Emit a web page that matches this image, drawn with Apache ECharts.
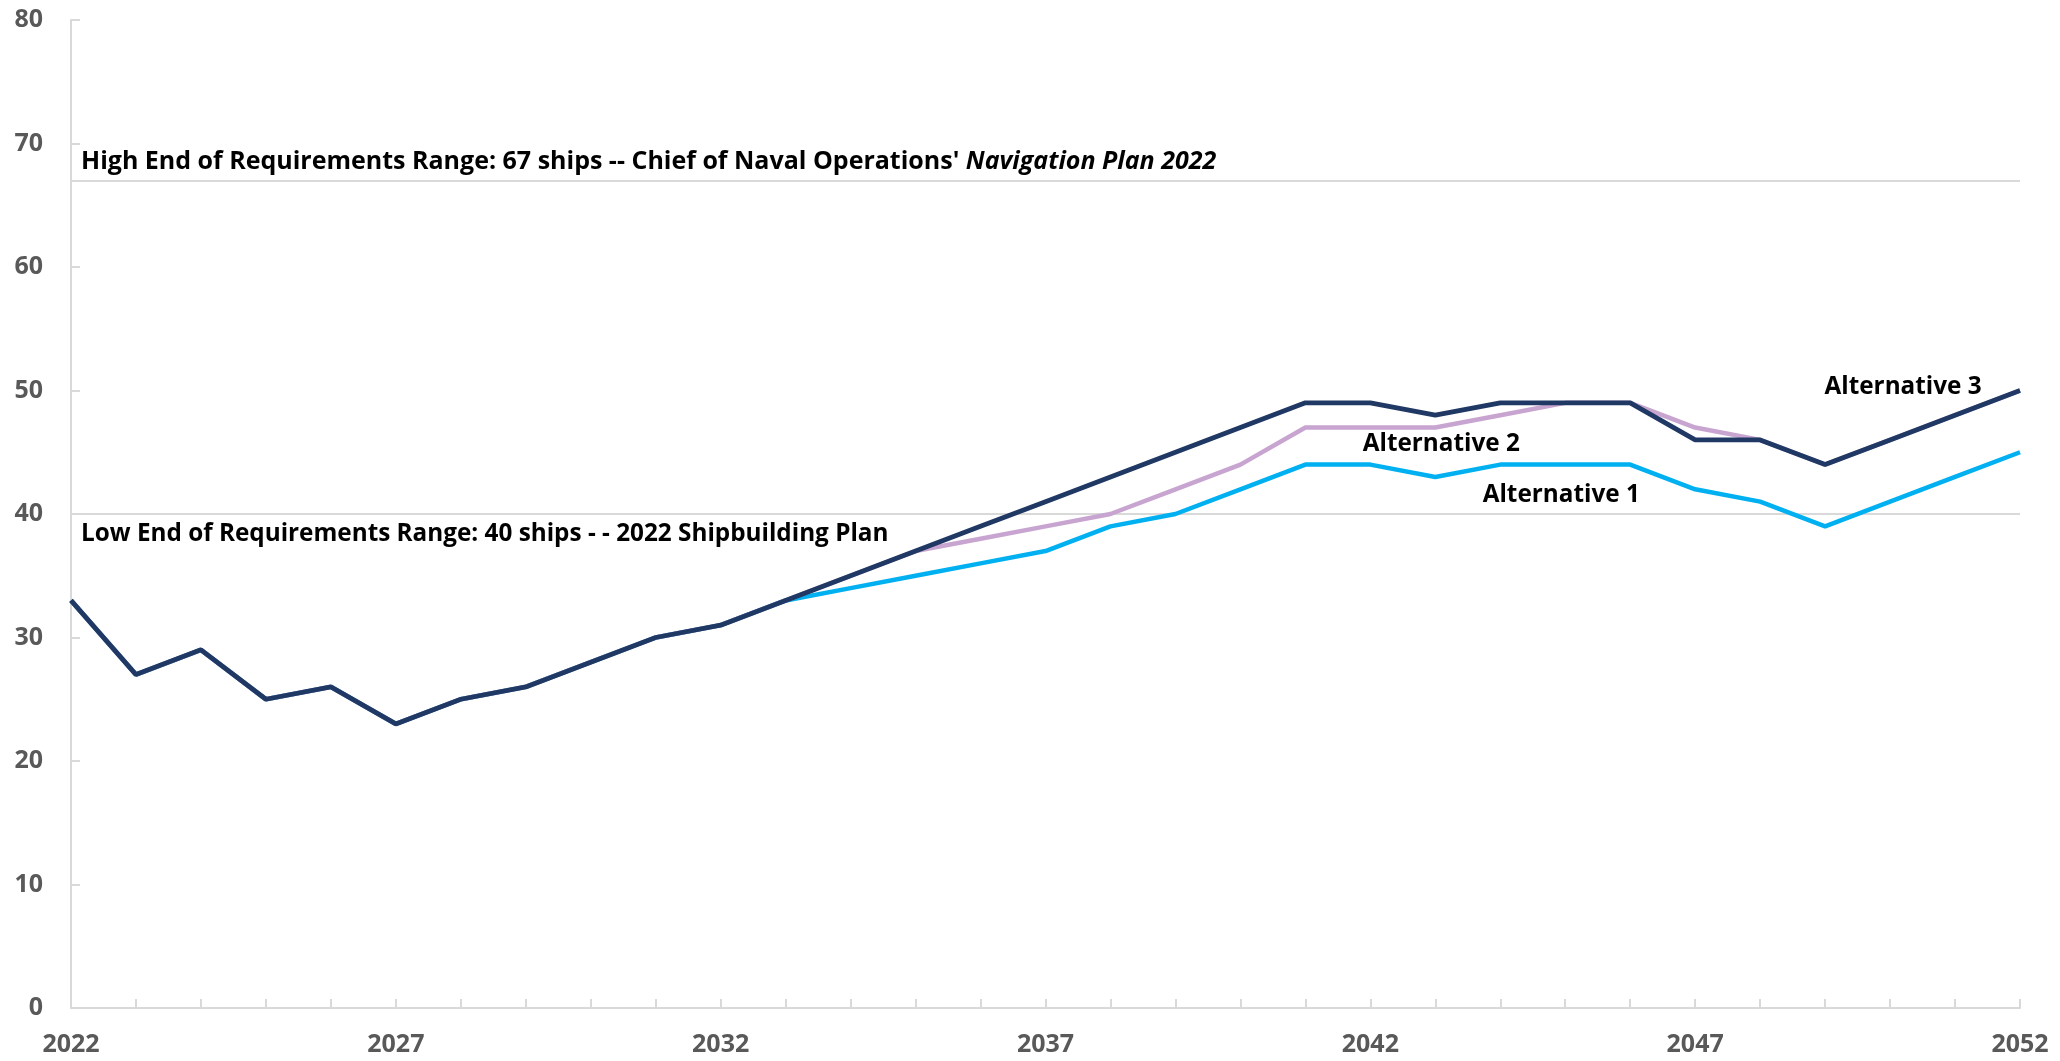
<!DOCTYPE html>
<html>
<head>
<meta charset="utf-8">
<title>Ships: Alternatives 1–3, 2022–2052</title>
<script src="https://cdn.jsdelivr.net/npm/echarts@6/dist/echarts.min.js"></script>
<style>
  html, body { margin: 0; padding: 0; background: #ffffff; }
  #chart { width: 2060px; height: 1061px; }
</style>
</head>
<body>
<div id="chart"></div>
<script>
// Fiscal years on the horizontal axis
const years = [];
for (let y = 2022; y <= 2052; y++) years.push(String(y));

// Number of ships by year for each alternative
const alternative1 = [33, 27, 29, 25, 26, 23, 25, 26, 28, 30, 31, 33, 34, 35, 36, 37, 39, 40, 42, 44, 44, 43, 44, 44, 44, 42, 41, 39, 41, 43, 45];
const alternative2 = [33, 27, 29, 25, 26, 23, 25, 26, 28, 30, 31, 33, 35, 37, 38, 39, 40, 42, 44, 47, 47, 47, 48, 49, 49, 47, 46, 44, 46, 48, 50];
const alternative3 = [33, 27, 29, 25, 26, 23, 25, 26, 28, 30, 31, 33, 35, 37, 39, 41, 43, 45, 47, 49, 49, 48, 49, 49, 49, 46, 46, 44, 46, 48, 50];

// Requirement range ends
const highEndRequirement = 67;
const lowEndRequirement = 40;

// Y-axis ticks
const yTicks = { min: 0, max: 80, interval: 10 };

// Where each series name is written: [year, ships]
const seriesLabelAnchors = {
  'Alternative 1': ['2045', 41.5],
  'Alternative 2': ['2043', 45.7],
  'Alternative 3': ['2050', 50.3]
};
// Small pixel nudges for the series names
const seriesLabelOffsets = {
  'Alternative 1': [-4, 0],
  'Alternative 2': [6, 0],
  'Alternative 3': [13, 0]
};

const FONT = '"Open Sans"';
const chart = echarts.init(document.getElementById('chart'), null, { renderer: 'canvas' });

function nameLabel(name) {
  return {
    symbol: 'circle',
    symbolSize: 0,
    silent: true,
    data: [{
      coord: seriesLabelAnchors[name],
      label: {
        show: true,
        position: 'inside',
        offset: seriesLabelOffsets[name],
        formatter: name,
        color: '#000000',
        fontFamily: FONT,
        fontWeight: 'bold',
        fontSize: 24.3
      }
    }]
  };
}

const option = {
  backgroundColor: '#ffffff',
  animation: false,
  grid: { left: 71, right: 40, top: 20, bottom: 53, containLabel: false },
  xAxis: {
    type: 'category',
    data: years,
    boundaryGap: false,
    axisLine: { show: true, lineStyle: { color: '#d9d9d9', width: 2 } },
    axisTick: { show: true, inside: true, length: 9, interval: 0, lineStyle: { color: '#d9d9d9', width: 2 } },
    axisLabel: {
      interval: 4,
      margin: 24,
      color: '#595959',
      fontFamily: FONT,
      fontWeight: 'bold',
      fontSize: 25
    },
    splitLine: { show: false }
  },
  yAxis: {
    type: 'value',
    min: yTicks.min,
    max: yTicks.max,
    interval: yTicks.interval,
    axisLine: { show: true, lineStyle: { color: '#d9d9d9', width: 2 } },
    axisTick: { show: true, inside: true, length: 9, lineStyle: { color: '#d9d9d9', width: 2 } },
    axisLabel: {
      margin: 28,
      color: '#595959',
      fontFamily: FONT,
      fontWeight: 'bold',
      fontSize: 25
    },
    splitLine: { show: false }
  },
  series: [
    {
      name: 'Alternative 1',
      type: 'line',
      data: alternative1,
      symbol: 'none',
      z: 2,
      lineStyle: { color: '#00b0f0', width: 4.5 },
      markPoint: nameLabel('Alternative 1'),
      markLine: {
        silent: true,
        symbol: ['none', 'none'],
        z: 1,
        lineStyle: { color: '#d9d9d9', width: 2, type: 'solid' },
        data: [
          {
            yAxis: highEndRequirement,
            label: {
              show: true,
              position: 'insideStartTop',
              distance: [10, 6],
              formatter: "{b|High End of Requirements Range: 67 ships -- Chief of Naval Operations' }{i|Navigation Plan 2022}",
              rich: {
                b: { color: '#000000', fontFamily: FONT, fontWeight: 'bold', fontSize: 25 },
                i: { color: '#000000', fontFamily: FONT, fontWeight: 'bold', fontStyle: 'italic', fontSize: 25 }
              }
            }
          },
          {
            yAxis: lowEndRequirement,
            label: {
              show: true,
              position: 'insideStartBottom',
              distance: [10, 8],
              formatter: 'Low End of Requirements Range: 40 ships - - 2022 Shipbuilding Plan',
              color: '#000000',
              fontFamily: FONT,
              fontWeight: 'bold',
              fontSize: 24.3
            }
          }
        ]
      }
    },
    {
      name: 'Alternative 2',
      type: 'line',
      data: alternative2,
      symbol: 'none',
      z: 3,
      lineStyle: { color: '#c8a5d0', width: 4.5 },
      markPoint: nameLabel('Alternative 2')
    },
    {
      name: 'Alternative 3',
      type: 'line',
      data: alternative3,
      symbol: 'none',
      z: 4,
      lineStyle: { color: '#203864', width: 4.8 },
      markPoint: nameLabel('Alternative 3')
    }
  ]
};

chart.setOption(option);
</script>
</body>
</html>
